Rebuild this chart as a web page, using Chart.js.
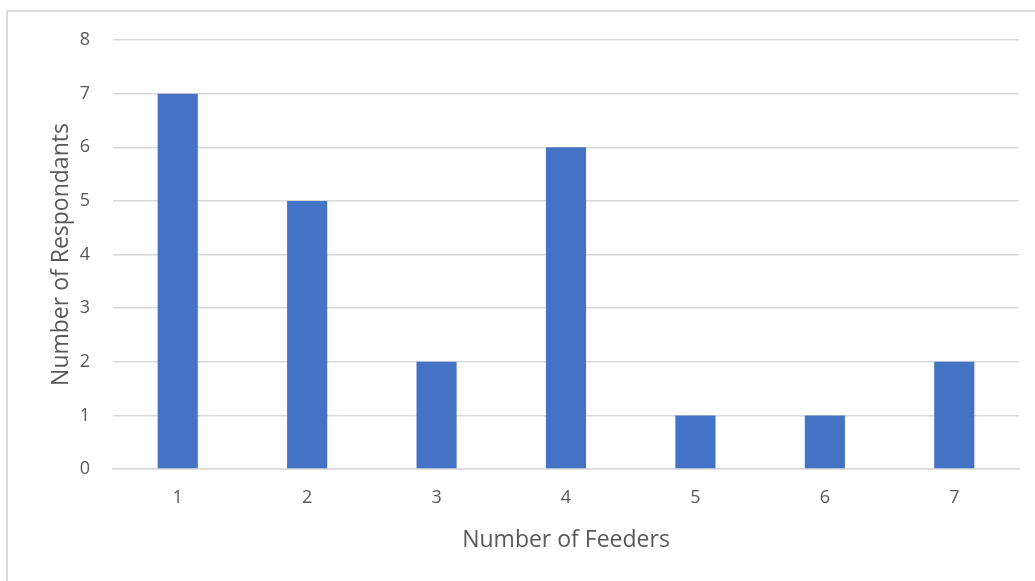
<!DOCTYPE html>
<html>
<head>
<meta charset="utf-8">
<script src="https://cdn.jsdelivr.net/npm/chart.js@4.4.1/dist/chart.umd.min.js"></script>
<style>
  html, body { margin: 0; padding: 0; background: #fff; }
  #wrap { position: relative; width: 1035px; height: 581px; overflow: hidden; }
  #frame {
    position: absolute; left: 6px; top: 10px; width: 1040px; height: 590px;
    border: 2px solid #d9d9d9; box-sizing: border-box;
  }
  #box { position: absolute; left: 0; top: 0; width: 1035px; height: 581px; }
</style>
</head>
<body>
<div id="wrap">
  <div id="frame"></div>
  <div id="box"><canvas id="feedersChart"></canvas></div>
</div>
<script>
// Survey results: how many feeders each respondent has
const feederCounts = ['1', '2', '3', '4', '5', '6', '7'];
const respondents = [7, 5, 2, 6, 1, 1, 2];
const yTicks = [0, 1, 2, 3, 4, 5, 6, 7, 8];

Chart.defaults.font.family = '"Open Sans", sans-serif';
Chart.defaults.color = '#595959';

const ctx = document.getElementById('feedersChart').getContext('2d');

new Chart(ctx, {
  type: 'bar',
  data: {
    labels: feederCounts,
    datasets: [{
      data: respondents,
      backgroundColor: '#4472c4',
      borderWidth: 0,
      categoryPercentage: 1,
      barPercentage: 0.31
    }]
  },
  options: {
    responsive: true,
    maintainAspectRatio: false,
    animation: false,
    layout: { padding: { left: 44, top: 40, right: 16, bottom: 20 } },
    plugins: {
      legend: { display: false },
      tooltip: { enabled: false }
    },
    scales: {
      x: {
        // fixed axis heights/widths keep the plot area in place
        afterFit: axis => { axis.height = 92; },
        grid: { display: false },
        border: { color: '#d9d9d9', width: 1.5 },
        ticks: { font: { size: 18 }, padding: 10 },
        title: { display: true, text: 'Number of Feeders', font: { size: 23 }, padding: { top: 4, bottom: 7 } }
      },
      y: {
        min: 0,
        max: 8,
        afterBuildTicks: axis => { axis.ticks = yTicks.map(v => ({ value: v })); },
        afterFit: axis => { axis.width = 69; },
        grid: { color: '#d9d9d9', lineWidth: 1.5, drawTicks: false },
        border: { display: false },
        ticks: { font: { size: 18 }, padding: 23 },
        title: { display: true, text: 'Number of Respondants', font: { size: 23 }, padding: { top: 4, bottom: 4 } }
      }
    }
  }
});
</script>
</body>
</html>
